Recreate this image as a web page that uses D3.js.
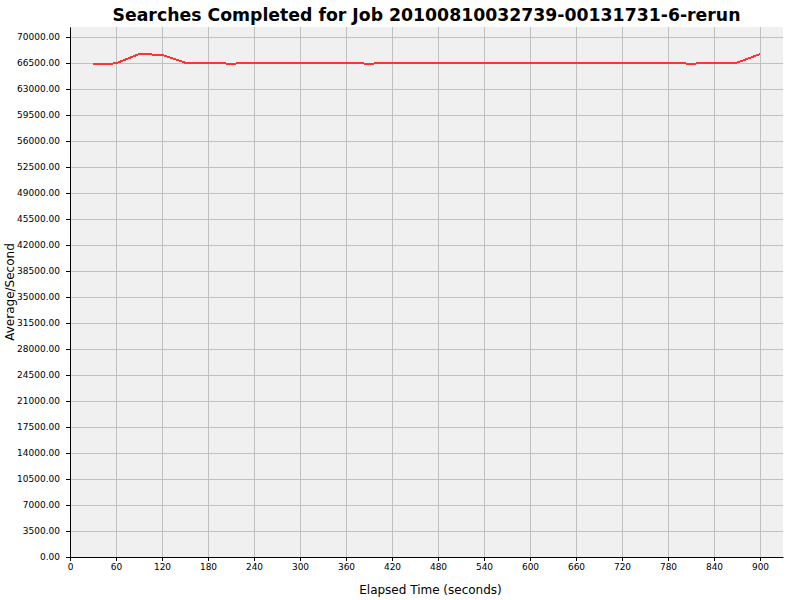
<!DOCTYPE html>
<html>
<head>
<meta charset="utf-8">
<script src="https://cdn.jsdelivr.net/npm/d3@7"></script>
<style>
  body { margin: 0; background: #fff; }
  svg { display: block; }
</style>
</head>
<body>
<div id="vis"></div>
<script>
// Line chart: searches completed per second over elapsed time.

const TITLE = "Searches Completed for Job 20100810032739-00131731-6-rerun";
const X_LABEL = "Elapsed Time (seconds)";
const Y_LABEL = "Average/Second";

const ELAPSED = [30, 60, 90, 120, 150, 180, 210, 240, 270, 300, 330, 360, 390, 420, 450,
                 480, 510, 540, 570, 600, 630, 660, 690, 720, 750, 780, 810, 840, 870, 900];
const RATE    = [66300, 66450, 67700, 67600, 66550, 66550, 66400, 66550, 66550, 66550,
                 66550, 66550, 66400, 66550, 66550, 66550, 66550, 66550, 66550, 66550,
                 66550, 66550, 66550, 66550, 66550, 66550, 66400, 66550, 66550, 67700];

const X_TICKS = d3.range(0, 901, 60);
const Y_TICKS = d3.range(0, 70001, 3500);

const W = 800, H = 600;
const margin = { top: 27, right: 17, bottom: 43, left: 70 };
const innerW = W - margin.left - margin.right;
const innerH = H - margin.top - margin.bottom;

const svg = d3.select("#vis").append("svg").attr("width", W).attr("height", H)
  .style("font-family", "'DejaVu Sans', sans-serif");

const x = d3.scaleLinear().domain([0, 930]).range([0, innerW]);
const y = d3.scaleLinear().domain([0, 71346]).range([innerH, 0]);

svg.append("text")
  .attr("x", margin.left + innerW / 2).attr("y", 21)
  .attr("text-anchor", "middle")
  .style("font-size", "17.3px").style("font-weight", "bold").style("fill", "#000")
  .text(TITLE);

const g = svg.append("g").attr("transform", `translate(${margin.left},${margin.top})`);

g.append("rect").attr("width", innerW).attr("height", innerH).attr("fill", "#f0f0f0");

// gridlines
g.append("g").selectAll("line").data(X_TICKS).join("line")
  .attr("x1", d => x(d) + 0.5).attr("x2", d => x(d) + 0.5)
  .attr("y1", 0).attr("y2", innerH)
  .attr("stroke", "#c0c0c0").attr("stroke-width", 1)
  .attr("shape-rendering", "crispEdges");

g.append("g").selectAll("line").data(Y_TICKS).join("line")
  .attr("x1", 0).attr("x2", innerW)
  .attr("y1", d => Math.round(y(d)) + 0.5).attr("y2", d => Math.round(y(d)) + 0.5)
  .attr("stroke", "#c0c0c0").attr("stroke-width", 1)
  .attr("shape-rendering", "crispEdges");

// data line
const line = d3.line().x((d, i) => x(ELAPSED[i])).y(d => y(d));
g.append("path").datum(RATE)
  .attr("d", line).attr("fill", "none")
  .attr("stroke", "#ff3333").attr("stroke-width", 2)
  .attr("shape-rendering", "crispEdges");

// axes
g.append("g").attr("transform", `translate(0,${innerH})`)
  .call(d3.axisBottom(x).tickValues(X_TICKS).tickSize(4).tickPadding(3).tickSizeOuter(0))
  .call(ax => ax.select(".domain").attr("stroke", "#000"))
  .selectAll("text").style("font-size", "9px").style("fill", "#000")
  .style("font-family", "'DejaVu Sans', sans-serif");

g.append("g")
  .call(d3.axisLeft(y).tickValues(Y_TICKS).tickSize(4).tickPadding(6).tickSizeOuter(0)
    .tickFormat(d3.format(".2f")))
  .call(ax => ax.select(".domain").attr("stroke", "#000"))
  .selectAll("text").style("font-size", "9px").style("fill", "#000")
  .style("font-family", "'DejaVu Sans', sans-serif");

svg.append("text")
  .attr("x", margin.left + innerW / 2 + 4).attr("y", 594)
  .attr("text-anchor", "middle").style("font-size", "12px").style("fill", "#000")
  .text(X_LABEL);

svg.append("text")
  .attr("transform", `translate(14,${margin.top + innerH / 2}) rotate(-90)`)
  .attr("text-anchor", "middle").style("font-size", "12px").style("fill", "#000")
  .text(Y_LABEL);
</script>
</body>
</html>
